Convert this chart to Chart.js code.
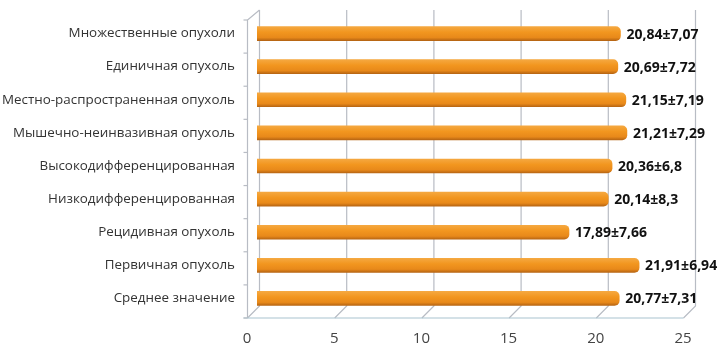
<!DOCTYPE html>
<html><head><meta charset="utf-8">
<script src="https://cdn.jsdelivr.net/npm/chart.js@4.4.0/dist/chart.umd.min.js"></script>
<style>html,body{margin:0;padding:0;background:#fff}#wrap{width:718px;height:353px;position:relative}</style>
</head><body><div id="wrap"><canvas id="c" width="718" height="353"></canvas></div>
<script>
const categories = ["Множественные опухоли","Единичная опухоль","Местно-распространенная опухоль","Мышечно-неинвазивная опухоль","Высокодифференцированная","Низкодифференцированная","Рецидивная опухоль","Первичная опухоль","Среднее значение"];
const means = [20.84,20.69,21.15,21.21,20.36,20.14,17.89,21.91,20.77];
const sds = ["7,07","7,72","7,19","7,29","6,8","8,3","7,66","6,94","7,31"];
const xTicks = [0,5,10,15,20,25];

const fmt = v => v.toFixed(2).replace('.', ',');
const valueLabels = means.map((m,i)=>fmt(m)+'±'+sds[i]);

const frame = {
  id:'frame',
  beforeDatasetsDraw(chart){
    const {ctx, chartArea:a, scales:{x}} = chart;
    ctx.save();
    ctx.strokeStyle='#b8bcc4'; ctx.lineWidth=1.2;
    const top=10, back=306, front=318, dx=12;
    xTicks.forEach(v=>{
      const px=x.getPixelForValue(v)+2.5;
      ctx.beginPath(); ctx.moveTo(px,top); ctx.lineTo(px,back); ctx.lineTo(px-dx,front); ctx.stroke();
    });
    const lx=x.getPixelForValue(0)+2.5-dx;
    ctx.beginPath(); ctx.moveTo(lx,front); ctx.lineTo(lx,top+10); ctx.lineTo(lx+dx,top); ctx.stroke();
    ctx.strokeStyle='#a9c3cf';
    ctx.beginPath(); ctx.moveTo(lx-4,front); ctx.lineTo(x.getPixelForValue(25)+2.5-dx,front); ctx.stroke();
    ctx.strokeStyle='#b8bcc4';
    const n=categories.length, h=(front-(top+10))/n;
    for(let i=0;i<=n;i++){const yy=top+10+i*h; ctx.beginPath(); ctx.moveTo(lx-4,yy); ctx.lineTo(lx,yy); ctx.stroke();}
    ctx.restore();
  },
  afterDatasetsDraw(chart){
    const {ctx, scales:{x,y}} = chart;
    ctx.save();
    ctx.font='bold 14px "Open Sans", sans-serif';
    ctx.fillStyle='#111'; ctx.textBaseline='middle';
    means.forEach((m,i)=>{
      ctx.fillText(valueLabels[i], x.getPixelForValue(m)+6, y.getPixelForValue(i)+1);
    });
    ctx.restore();
  }
};

new Chart(document.getElementById('c'),{
  type:'bar',
  data:{labels:categories,datasets:[{data:means,barThickness:14,borderRadius:5,borderSkipped:'start',
    backgroundColor(ctx){
      const chart=ctx.chart; const y=chart.scales.y;
      if(!y||ctx.dataIndex===undefined) return '#F29621';
      const c=y.getPixelForValue(ctx.dataIndex);
      if(!isFinite(c)) return '#F29621';
      const g=chart.ctx.createLinearGradient(0,c-7,0,c+7);
      g.addColorStop(0,'#F5A840'); g.addColorStop(0.4,'#F2961F'); g.addColorStop(0.78,'#E8891A'); g.addColorStop(1,'#B86613');
      return g;
    }}]},
  options:{
    indexAxis:'y', responsive:false, animation:false,
    layout:{padding:{left:0,right:25,top:17,bottom:0}},
    plugins:{legend:{display:false},tooltip:{enabled:false}},
    scales:{
      x:{min:0,max:25,afterBuildTicks(s){s.ticks=xTicks.map(v=>({value:v}));},
        afterFit(s){s.height=38;},
        grid:{display:false},border:{display:false},
        ticks:{labelOffset:-10,padding:7,color:'#444',font:{size:15,family:'"Open Sans", sans-serif'}}},
      y:{grid:{display:false},border:{display:false},
        afterFit(s){s.width=257;s.paddingTop=0;s.paddingBottom=0;},
        ticks:{padding:14,color:'#333',font:{size:13.4,family:'"Open Sans", sans-serif'}}}
    }
  },
  plugins:[frame]
});
</script></body></html>
